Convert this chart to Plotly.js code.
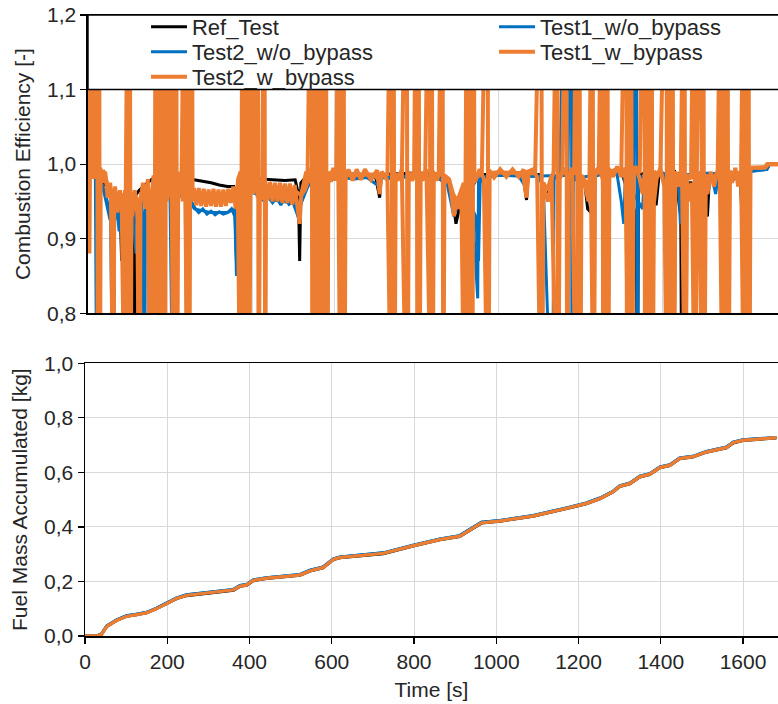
<!DOCTYPE html>
<html>
<head>
<meta charset="utf-8">
<script src="https://cdn.plot.ly/plotly-3.0.1.min.js"></script>
<style>html,body{margin:0;padding:0;background:#fff;}#chart{width:778px;height:704px;}</style>
</head>
<body>
<div id="chart"></div>
<script>
// ---------------- DATA ----------------
const seriesNames = ["Ref_Test", "Test1_w/o_bypass", "Test2_w/o_bypass", "Test1_w_bypass", "Test2_w_bypass"];

// Combustion efficiency [-] : [time s, value] (values beyond 0.8–1.2 are off-scale spikes)
const effRefTest = [[0,1.0],[8,1.005],[16,0.99],[24,0.98],[34,0.98],[44,0.97],[54,0.96],[60,0.962],[66,0.955],[72,0.96],[78,0.95],[82,0.87],[84,0.955],[90,0.962],[100,0.96],[110,0.955],[114,0.6],[116,0.958],[125,0.965],[135,0.97],[145,0.975],[156,0.98],[170,0.982],[185,0.983],[200,0.982],[215,0.982],[230,0.981],[248,0.98],[258,0.979],[265,0.979],[280,0.977],[300,0.975],[320,0.972],[340,0.97],[355,0.97],[362,0.94],[366,0.975],[375,0.985],[390,0.985],[400,0.98],[420,0.98],[450,0.979],[480,0.978],[505,0.979],[513,0.96],[516,0.87],[519,0.975],[530,0.982],[560,0.986],[600,0.987],[650,0.986],[700,0.986],[711,0.955],[715,0.986],[760,0.987],[800,0.988],[850,0.987],[880,0.975],[890,0.95],[897,0.92],[903,0.935],[910,0.965],[926,0.86],[929,0.96],[935,0.6],[938,0.97],[950,0.985],[1000,0.988],[1060,0.988],[1069,0.952],[1073,0.987],[1100,0.986],[1110,0.965],[1120,0.955],[1128,0.98],[1170,0.987],[1212,0.97],[1218,0.94],[1226,0.935],[1232,0.985],[1280,0.99],[1300,0.99],[1337,0.93],[1339,0.6],[1342,0.985],[1365,0.99],[1373,0.955],[1385,0.945],[1392,0.985],[1430,0.99],[1445,0.93],[1448,0.6],[1452,0.975],[1470,0.975],[1478,0.94],[1485,0.985],[1510,0.93],[1515,0.985],[1550,0.99],[1560,0.955],[1565,0.985],[1590,0.985],[1598,0.88],[1602,0.985],[1620,0.995],[1650,0.995],[1658,1.0],[1682,1.0]];

const effTest1WoBypass = [[0,1.0],[10,1.005],[20,0.985],[30,0.98],[45,0.955],[55,0.93],[62,0.6],[65,0.94],[80,0.93],[95,0.94],[110,0.93],[117,0.88],[121,0.94],[140,0.955],[160,0.96],[190,0.965],[220,0.96],[245,0.95],[260,0.94],[300,0.935],[340,0.935],[358,0.94],[362,0.87],[366,0.95],[380,0.97],[400,0.962],[450,0.952],[500,0.948],[512,0.93],[520,0.95],[540,0.975],[575,0.98],[583,0.6],[586,0.98],[650,0.982],[700,0.982],[760,0.983],[800,0.984],[850,0.983],[880,0.97],[895,0.94],[905,0.955],[935,0.96],[950,0.82],[952,0.98],[1000,0.985],[1100,0.984],[1170,0.985],[1178,1.4],[1180,0.6],[1183,0.98],[1250,0.987],[1300,0.988],[1352,0.94],[1356,0.985],[1400,0.988],[1440,0.975],[1444,0.92],[1448,0.985],[1500,0.988],[1560,0.986],[1610,0.99],[1640,0.992],[1655,0.993],[1662,1.0],[1682,1.0]];

const effTest2WoBypass = [[0,1.0],[6,1.01],[12,0.99],[18,0.98],[22,0.6],[24,0.98],[32,0.975],[40,0.96],[48,0.94],[54,0.925],[58,0.95],[64,0.92],[70,0.945],[76,0.91],[80,0.94],[88,0.93],[96,0.6],[98,0.93],[104,0.95],[110,0.92],[116,0.945],[122,0.935],[128,0.955],[134,0.93],[138,0.6],[140,0.95],[148,0.96],[156,0.95],[162,0.6],[164,0.95],[172,0.96],[182,0.955],[190,0.965],[200,0.955],[208,0.6],[210,0.96],[220,0.965],[230,0.958],[240,0.95],[248,0.93],[252,0.95],[262,0.94],[270,0.935],[280,0.94],[290,0.933],[300,0.937],[310,0.932],[320,0.936],[330,0.933],[340,0.935],[350,0.94],[358,0.93],[362,0.85],[366,0.95],[375,0.975],[380,0.6],[383,0.97],[392,0.975],[400,0.965],[410,0.96],[420,0.955],[430,0.95],[440,0.955],[450,0.948],[460,0.955],[470,0.945],[480,0.955],[490,0.946],[500,0.95],[508,0.94],[514,0.925],[518,0.945],[525,0.955],[535,0.97],[545,0.975],[555,0.98],[565,0.975],[572,0.6],[575,0.97],[580,0.9],[584,0.975],[592,0.98],[600,0.98],[620,0.982],[650,0.98],[680,0.982],[710,0.97],[715,0.982],[745,0.98],[760,0.982],[790,0.983],[820,0.984],[850,0.982],[862,0.98],[875,0.975],[885,0.95],[892,0.93],[900,0.945],[908,0.96],[914,0.95],[922,0.6],[925,0.955],[945,0.93],[952,0.87],[956,0.975],[965,0.983],[990,0.985],[1020,0.985],[1050,0.984],[1066,0.97],[1072,0.984],[1100,0.983],[1110,0.97],[1132,0.6],[1136,0.98],[1150,0.985],[1166,1.4],[1168,0.6],[1172,0.982],[1200,0.985],[1218,0.97],[1226,0.95],[1232,0.983],[1250,0.986],[1280,0.99],[1290,0.985],[1300,0.95],[1306,0.92],[1310,0.985],[1330,0.988],[1337,1.4],[1339,0.6],[1342,0.985],[1360,0.98],[1380,0.96],[1385,0.985],[1400,0.988],[1420,0.95],[1425,0.985],[1440,0.988],[1450,0.97],[1460,0.985],[1490,0.988],[1520,0.985],[1530,0.96],[1536,0.985],[1560,0.986],[1575,0.98],[1590,0.988],[1600,0.87],[1604,0.95],[1607,1.4],[1609,0.6],[1613,0.99],[1640,0.992],[1655,0.993],[1662,1.0],[1682,1.0]];

const effTest1WBypass = [[0,1.0],[5,1.01],[10,1.02],[15,1.03],[18,1.0],[24,0.985],[30,0.995],[36,0.975],[42,0.99],[48,0.955],[54,0.975],[60,0.94],[66,0.97],[72,0.935],[78,0.965],[84,0.93],[88,0.6],[90,0.965],[96,0.935],[102,0.97],[108,0.93],[114,0.965],[120,0.935],[126,0.6],[128,0.95],[134,0.975],[140,0.94],[146,0.98],[152,0.6],[154,0.95],[160,0.985],[166,0.945],[172,0.6],[174,0.975],[180,0.945],[186,0.985],[192,0.95],[198,0.99],[204,0.95],[210,0.6],[213,0.985],[219,0.955],[225,0.99],[231,0.95],[237,0.985],[243,0.6],[246,0.975],[252,0.95],[258,0.968],[264,0.945],[270,0.968],[276,0.944],[282,0.967],[288,0.943],[294,0.966],[300,0.944],[306,0.967],[312,0.943],[318,0.966],[324,0.943],[330,0.966],[336,0.944],[342,0.967],[348,0.948],[354,0.97],[360,0.94],[366,0.98],[372,0.99],[378,0.6],[381,0.97],[387,0.99],[393,0.6],[396,0.985],[402,0.96],[408,0.985],[414,0.955],[420,0.98],[426,0.952],[432,0.978],[438,0.952],[444,0.976],[450,0.95],[456,0.975],[462,0.95],[468,0.975],[474,0.948],[480,0.974],[486,0.948],[492,0.974],[498,0.946],[504,0.972],[510,0.945],[516,0.92],[520,0.96],[526,0.975],[532,0.99],[538,0.975],[544,0.995],[550,0.975],[556,0.995],[562,0.6],[565,0.99],[571,0.975],[577,0.995],[583,0.6],[586,0.99],[592,0.976],[598,0.995],[604,0.978],[610,0.995],[616,0.6],[619,0.99],[625,0.976],[635,0.993],[645,0.978],[655,0.993],[665,0.979],[675,0.993],[690,0.979],[705,0.992],[711,0.96],[716,0.99],[730,0.978],[740,0.6],[743,0.99],[755,0.978],[765,0.993],[777,0.6],[780,0.99],[790,0.978],[805,0.993],[815,0.978],[825,0.993],[838,0.6],[841,0.99],[850,0.978],[860,0.993],[870,0.975],[880,0.98],[886,0.96],[892,0.93],[898,0.955],[904,0.94],[910,0.965],[916,0.975],[925,0.6],[928,0.96],[934,0.6],[937,0.975],[945,0.98],[955,0.993],[965,0.98],[975,0.6],[978,0.992],[990,0.982],[1005,0.993],[1020,0.983],[1035,0.993],[1050,0.983],[1062,0.993],[1068,0.96],[1072,0.99],[1085,0.993],[1095,0.982],[1105,0.6],[1108,0.975],[1115,0.96],[1122,0.95],[1128,0.975],[1135,0.99],[1144,1.4],[1146,0.6],[1150,0.98],[1160,0.995],[1170,0.98],[1180,0.995],[1191,0.6],[1194,0.99],[1205,0.98],[1212,0.97],[1220,0.95],[1226,0.97],[1233,0.6],[1236,0.99],[1245,0.995],[1255,0.98],[1265,0.6],[1268,0.995],[1280,0.983],[1290,0.997],[1300,0.983],[1310,0.995],[1320,0.6],[1324,0.985],[1335,0.997],[1345,0.98],[1352,0.96],[1358,0.99],[1366,0.6],[1370,0.97],[1380,0.95],[1386,0.98],[1395,0.995],[1405,0.97],[1412,0.6],[1418,0.97],[1428,0.6],[1432,0.99],[1440,0.97],[1448,0.99],[1456,0.6],[1460,0.98],[1466,0.95],[1472,0.975],[1480,0.6],[1484,0.97],[1490,0.99],[1498,0.6],[1502,0.975],[1510,0.96],[1518,0.99],[1526,0.97],[1534,0.99],[1540,0.995],[1548,0.6],[1552,0.97],[1558,0.6],[1562,0.99],[1570,0.975],[1578,0.995],[1585,0.97],[1592,0.99],[1600,0.6],[1603,0.98],[1608,0.6],[1612,0.995],[1630,0.996],[1652,0.996],[1658,1.0],[1682,1.0]];

const effTest2WBypass = [[0,1.0],[2,1.4],[3.5,0.88],[5,1.0],[9,1.008],[12,1.4],[14,0.98],[16,1.012],[20,1.0],[22,1.4],[24,0.6],[27,1.4],[29,0.6],[31,0.99],[38,0.99],[44,0.98],[50,0.965],[56,0.955],[62,0.6],[64,0.955],[70,0.96],[76,0.95],[82,0.96],[90,0.6],[92,0.955],[98,1.4],[100,0.6],[102,1.4],[104,0.6],[106,0.95],[112,0.96],[118,0.955],[124,0.94],[130,0.96],[136,0.965],[142,0.97],[148,0.965],[156,0.6],[158,0.97],[162,0.6],[165,1.4],[167,0.6],[169,1.4],[171,0.6],[174,0.97],[178,1.4],[180,0.6],[183,0.975],[186,1.4],[188,0.6],[191,1.4],[193,0.975],[198,0.98],[205,1.4],[207,0.6],[210,1.4],[212,0.6],[215,1.4],[217,0.6],[220,0.975],[228,0.97],[236,1.4],[238,0.97],[243,0.6],[245,1.4],[247,0.6],[249,0.965],[253,1.4],[255,0.96],[262,0.955],[270,0.957],[280,0.955],[290,0.953],[300,0.955],[310,0.956],[320,0.955],[330,0.957],[340,0.956],[350,0.96],[358,0.96],[365,0.97],[372,0.6],[374,0.97],[377,1.4],[379,0.6],[382,1.4],[384,0.6],[388,1.4],[390,0.6],[393,1.4],[395,0.975],[400,0.975],[406,1.4],[408,0.975],[414,1.4],[416,0.6],[419,0.972],[425,0.97],[430,1.4],[432,0.6],[434,0.968],[445,0.965],[460,0.963],[475,0.962],[490,0.963],[500,0.96],[510,0.962],[520,0.958],[528,0.965],[535,0.975],[545,1.4],[547,0.6],[550,1.4],[552,0.6],[555,1.4],[557,0.98],[562,0.985],[566,1.4],[568,0.6],[571,0.98],[575,1.4],[577,0.6],[580,1.4],[582,0.6],[585,0.985],[595,0.99],[605,0.985],[613,1.4],[615,0.6],[618,1.4],[620,0.6],[623,1.4],[625,0.6],[628,0.985],[640,0.985],[660,0.986],[680,0.985],[700,0.986],[711,0.975],[716,0.985],[730,0.986],[740,1.4],[742,0.6],[745,1.4],[747,0.6],[750,0.985],[765,0.987],[777,1.4],[779,0.6],[782,0.986],[795,0.987],[801,1.4],[803,0.6],[806,1.4],[808,0.6],[811,0.987],[822,0.988],[833,1.4],[835,0.6],[838,1.4],[840,0.6],[843,0.987],[855,0.986],[864,1.4],[866,0.6],[869,0.985],[880,0.98],[890,0.96],[900,0.95],[910,0.965],[918,0.6],[920,0.95],[925,1.4],[927,0.6],[930,1.4],[932,0.6],[935,1.4],[937,0.6],[940,1.4],[942,0.975],[950,0.985],[960,0.988],[974,1.4],[976,0.6],[979,0.988],[1000,0.989],[1030,0.988],[1060,0.988],[1069,0.955],[1074,0.987],[1090,0.988],[1105,1.4],[1107,0.6],[1110,0.975],[1120,0.965],[1130,0.985],[1144,0.6],[1146,0.98],[1156,0.988],[1166,1.4],[1168,0.6],[1171,0.985],[1185,0.988],[1192,1.4],[1194,0.6],[1198,1.4],[1200,0.6],[1203,0.985],[1215,0.975],[1222,0.96],[1230,1.4],[1232,0.6],[1235,0.985],[1245,0.99],[1254,1.4],[1256,0.6],[1260,1.4],[1262,0.6],[1266,1.4],[1268,0.6],[1271,0.99],[1285,0.992],[1300,0.99],[1312,1.4],[1314,0.6],[1318,1.4],[1320,0.6],[1324,1.4],[1326,0.6],[1330,0.99],[1345,0.99],[1356,1.4],[1358,0.6],[1362,1.4],[1364,0.6],[1368,1.4],[1370,0.6],[1374,1.4],[1376,0.6],[1380,0.99],[1395,0.985],[1410,1.4],[1412,0.6],[1415,1.4],[1417,0.6],[1420,1.4],[1422,0.6],[1425,1.4],[1427,0.6],[1431,0.988],[1445,0.985],[1454,1.4],[1456,0.6],[1460,0.985],[1470,0.98],[1478,1.4],[1480,0.6],[1484,0.985],[1495,1.4],[1497,0.6],[1500,1.4],[1502,0.6],[1506,0.985],[1520,0.98],[1535,0.988],[1544,1.4],[1546,0.6],[1549,1.4],[1551,0.6],[1554,1.4],[1556,0.6],[1559,1.4],[1561,0.6],[1565,0.99],[1580,0.985],[1592,0.99],[1600,1.4],[1602,0.6],[1605,1.4],[1607,0.6],[1610,1.4],[1612,0.6],[1615,0.995],[1630,0.995],[1650,0.995],[1655,1.0],[1682,1.0]];

// Fuel mass accumulated [kg]
const fuelTime   = [0,28,40,53,77,101,125,150,174,198,223,247,296,361,377,393,409,441,523,547,579,604,620,725,798,863,911,936,964,1009,1090,1171,1219,1252,1284,1300,1325,1349,1373,1398,1422,1446,1478,1511,1560,1576,1600,1681];
const fuelRef    = [0,0,0.006,0.035,0.057,0.072,0.078,0.085,0.100,0.118,0.137,0.148,0.157,0.168,0.182,0.186,0.203,0.211,0.223,0.238,0.250,0.280,0.287,0.302,0.330,0.353,0.365,0.387,0.414,0.421,0.439,0.467,0.485,0.503,0.528,0.548,0.558,0.583,0.592,0.617,0.625,0.650,0.656,0.674,0.690,0.708,0.717,0.726];
const fuelWoBypass = [0,0,0.007,0.037,0.059,0.074,0.080,0.087,0.102,0.121,0.140,0.151,0.160,0.171,0.185,0.189,0.206,0.214,0.226,0.241,0.253,0.283,0.290,0.305,0.333,0.356,0.368,0.390,0.417,0.424,0.442,0.470,0.488,0.506,0.531,0.551,0.561,0.586,0.595,0.620,0.628,0.653,0.659,0.677,0.693,0.711,0.720,0.728];
const fuelWBypass  = [0,0,0.006,0.035,0.057,0.072,0.078,0.085,0.100,0.119,0.138,0.149,0.158,0.169,0.183,0.187,0.204,0.212,0.224,0.239,0.251,0.281,0.288,0.303,0.331,0.354,0.366,0.388,0.415,0.422,0.440,0.468,0.486,0.504,0.529,0.549,0.559,0.584,0.593,0.618,0.626,0.651,0.657,0.675,0.691,0.709,0.718,0.727];

// ---------------- CHART ----------------
const effSeries = [effRefTest, effTest1WoBypass, effTest2WoBypass, effTest1WBypass, effTest2WBypass];
const fuelSeries = [fuelRef, fuelWoBypass, fuelWoBypass, fuelWBypass, fuelWBypass];
const colors = ["#000000", "#0070C0", "#0070C0", "#ED7D31", "#ED7D31"];
const widthsTop = [3, 3, 3, 4, 4];
const legendIds = ["legend", "legend2", "legend3", "legend4", "legend5"];

const FONT = "Liberation Sans, Arial, sans-serif";
const TXT = "#262626";

const traces = [];
effSeries.forEach((s, i) => {
  traces.push({
    type: "scatter", mode: "lines",
    x: s.map(p => p[0]), y: s.map(p => p[1]),
    name: seriesNames[i], legend: legendIds[i],
    line: {color: colors[i], width: widthsTop[i]},
    xaxis: "x", yaxis: "y", hoverinfo: "skip"
  });
});
fuelSeries.forEach((s, i) => {
  traces.push({
    type: "scatter", mode: "lines",
    x: fuelTime, y: s,
    name: seriesNames[i], showlegend: false,
    line: {color: colors[i], width: 3},
    xaxis: "x2", yaxis: "y2", hoverinfo: "skip"
  });
});

const legRows = [0.9807, 0.9807, 0.9404, 0.9404, 0.9002];
const legCols = [0.088, 0.5902, 0.088, 0.5902, 0.088];
const legendBase = {
  xanchor: "left", yanchor: "middle", bgcolor: "rgba(0,0,0,0)", borderwidth: 0,
  itemwidth: 36,
  font: {family: FONT, size: 22, color: TXT}
};

const layout = {
  width: 778, height: 704,
  margin: {l: 85, r: 0, t: 15, b: 68},
  paper_bgcolor: "#ffffff", plot_bgcolor: "#ffffff",
  separators: ",.",
  font: {family: FONT, size: 20, color: TXT},
  xaxis: {
    domain: [0.0043, 1], range: [0, 1682], anchor: "y",
    showticklabels: false, ticks: "", dtick: 200, tick0: 0,
    showgrid: true, gridcolor: "#D9D9D9", gridwidth: 1,
    showline: true, mirror: true, linecolor: "#000", linewidth: 1.5, zeroline: false
  },
  yaxis: {
    domain: [0.5197, 1], range: [0.8, 1.2], anchor: "x",
    tickvals: [0.8, 0.9, 1.0, 1.1, 1.2], tickformat: ".1f",
    ticks: "outside", ticklen: 6, tickcolor: "#000", tickwidth: 1.2,
    showgrid: true, gridcolor: "#D9D9D9", gridwidth: 1,
    showline: true, linecolor: "#000", linewidth: 1.5, zeroline: false,
    tickfont: {family: FONT, size: 21, color: TXT},
    title: {text: "Combustion Efficiency [-]", font: {family: FONT, size: 21, color: TXT}, standoff: 10}
  },
  xaxis2: {
    domain: [0, 1], range: [0, 1685], anchor: "y2",
    dtick: 200, tick0: 0, ticks: "outside", ticklen: 6, tickcolor: "#000", tickwidth: 1.2,
    showgrid: true, gridcolor: "#D9D9D9", gridwidth: 1,
    showline: true, mirror: true, linecolor: "#000", linewidth: 1.5, zeroline: false,
    tickfont: {family: FONT, size: 21, color: TXT},
    title: {text: "Time [s]", font: {family: FONT, size: 21, color: TXT}, standoff: 10}
  },
  yaxis2: {
    domain: [0, 0.4391], range: [0, 1.0], anchor: "x2",
    tickvals: [0, 0.2, 0.4, 0.6, 0.8, 1.0], tickformat: ".1f",
    ticks: "outside", ticklen: 6, tickcolor: "#000", tickwidth: 1.2,
    showgrid: true, gridcolor: "#D9D9D9", gridwidth: 1,
    showline: true, linecolor: "#000", linewidth: 1.5, zeroline: false,
    tickfont: {family: FONT, size: 21, color: TXT},
    title: {text: "Fuel Mass Accumulated [kg]", font: {family: FONT, size: 21, color: TXT}, standoff: 10}
  },
  shapes: [{
    type: "rect", layer: "above",
    xref: "x domain", x0: 0, x1: 1.01,
    yref: "y", y0: 1.1, y1: 1.2,
    fillcolor: "#ffffff", line: {color: "#000", width: 1.5}
  }],
  showlegend: true
};
legendIds.forEach((id, i) => {
  layout[id] = Object.assign({}, legendBase, {x: legCols[i], y: legRows[i]});
});

Plotly.newPlot("chart", traces, layout, {staticPlot: true, displayModeBar: false});
</script>
</body>
</html>
